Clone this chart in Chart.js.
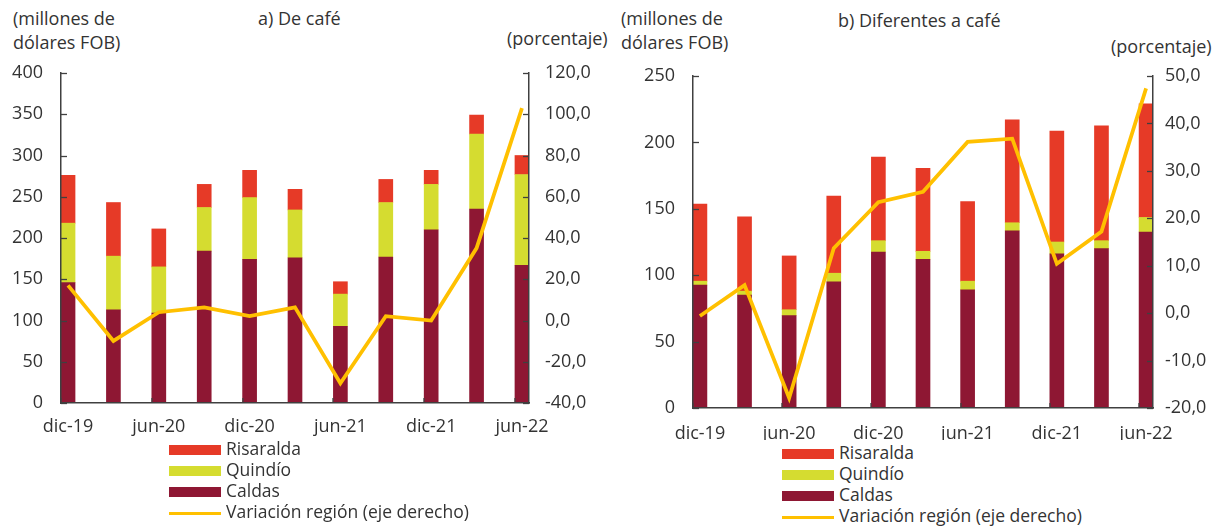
<!DOCTYPE html>
<html><head><meta charset="utf-8">
<script src="https://cdn.jsdelivr.net/npm/chart.js@4"></script>
<style>
body{margin:0;width:1220px;height:527px;overflow:hidden;background:#fff;font-family:'Open Sans',sans-serif;color:#333;position:relative}
.t{position:absolute;font-size:18px;line-height:24px;white-space:nowrap}
canvas{position:absolute}
.lg{position:absolute;font-size:17.5px;line-height:21px;white-space:nowrap}
.lg div{position:relative;height:21px}
.lg span.sw{position:absolute;left:0;width:52px}
.lg span.tx{position:absolute;left:57px;top:-2px}
</style></head><body>
<div class="t" style="left:13px;top:6px">(millones de<br>dólares FOB)</div>
<div class="t" style="left:258px;top:6px">a) De café</div>
<div class="t" style="left:507px;top:26px">(porcentaje)</div>
<div class="t" style="left:621px;top:6px">(millones de<br>dólares FOB)</div>
<div class="t" style="left:838px;top:8px">b) Diferentes a café</div>
<div class="t" style="left:1111px;top:34px">(porcentaje)</div>
<canvas id="ca" width="615" height="390" style="left:0;top:50px"></canvas>
<canvas id="cb" width="610" height="390" style="left:610px;top:50px"></canvas>
<div class="lg" id="lga" style="left:169px;top:440px"></div>
<div class="lg" id="lgb" style="left:782px;top:444px"></div>
<script>
// ---- data ----
const categories = ['dic-19','mar-20','jun-20','sep-20','dic-20','mar-21','jun-21','sep-21','dic-21','mar-22','jun-22'];
const tickLabels = ['dic-19','jun-20','dic-20','jun-21','dic-21','jun-22'];
const seriesNames = ['Risaralda','Quindío','Caldas','Variación región (eje derecho)'];

// a) De café (millones de dólares FOB; variación %)
const caldasA    = [146,113,109,184,174,176,93,177,210,235,167];
const quindioA   = [72,65,56,53,75,58,39,66,55,91,110];
const risaraldaA = [58,65,46,28,33,25,15,28,17,23,23];
const variacionA = [17,-9.9,4.0,6.4,2.1,6.4,-30.4,2.1,0.0,35.1,103];

// b) Diferentes a café
const caldasB    = [92.5,85,69.5,95,117.5,112,89,133.5,116,120,132.5];
const quindioB   = [3,3,4.5,6.5,8.5,6,6.5,6,9,6,11];
const risaraldaB = [58,56,40.5,58,63,62.5,60,77.5,83.5,86.5,85.5];
const variacionB = [-0.6,5.9,-17.9,13.7,23.4,25.6,36.1,36.8,10.4,17.2,47.4];

// ---- styles ----
const COL_RIS = '#E63A27', COL_QUI = '#D5DC30', COL_CAL = '#8E1733', COL_LINE = '#FFC000';
const AXIS = '#404040', TXT = '#333333';
const BAR_W = 14, X_PAD = 0.155;

Chart.defaults.font.family = "'Open Sans', sans-serif";
Chart.defaults.font.size = 18;
Chart.defaults.color = TXT;

const fmt1 = v => v.toFixed(1).replace('.', ',');

const inTicks = {
  id: 'inTicks',
  afterDraw(chart) {
    const ctx = chart.ctx, a = chart.chartArea;
    const {x, y, y1} = chart.scales;
    ctx.save();
    ctx.strokeStyle = AXIS; ctx.lineWidth = 1.3;
    const seg = (x0, y0, x2, y2) => { ctx.beginPath(); ctx.moveTo(x0, y0); ctx.lineTo(x2, y2); ctx.stroke(); };
    y.ticks.forEach(t => { const p = Math.round(y.getPixelForValue(t.value)) + 0.5; seg(a.left, p, a.left + 6, p); });
    y1.ticks.forEach(t => { const p = Math.round(y1.getPixelForValue(t.value)) + 0.5; seg(a.right - 6, p, a.right, p); });
    x.ticks.forEach(t => { const p = Math.round(x.getPixelForValue(t.value) - BAR_W / 2); seg(p, a.bottom, p, a.bottom - 5); });
    ctx.restore();
  }
};

function build(id, cal, qui, ris, vari, g) {
  const pts = arr => arr.map((v, i) => ({x: i, y: v}));
  const fitY = w => s => { s.width = w; s.paddingTop = 0; s.paddingBottom = 0; };
  return new Chart(document.getElementById(id), {
    type: 'bar',
    data: {
      datasets: [
        {type: 'line', label: seriesNames[3], data: pts(vari), yAxisID: 'y1', borderColor: COL_LINE, borderWidth: 3.75, pointRadius: 0, tension: 0, fill: false},
        {label: seriesNames[2], data: pts(cal), backgroundColor: COL_CAL, yAxisID: 'y', barThickness: BAR_W},
        {label: seriesNames[1], data: pts(qui), backgroundColor: COL_QUI, yAxisID: 'y', barThickness: BAR_W},
        {label: seriesNames[0], data: pts(ris), backgroundColor: COL_RIS, yAxisID: 'y', barThickness: BAR_W}
      ]
    },
    options: {
      responsive: false, animation: false,
      layout: {padding: {top: g.padTop, left: 0, right: 0, bottom: 0}},
      plugins: {legend: {display: false}, tooltip: {enabled: false}},
      scales: {
        x: {
          type: 'linear', stacked: true, offset: false, min: -X_PAD, max: categories.length - 1 + X_PAD,
          grid: {display: false, drawTicks: false, offset: false},
          border: {display: true, color: AXIS, width: 1.5, z: 1},
          afterBuildTicks: s => { s.ticks = tickLabels.map(l => ({value: categories.indexOf(l)})); },
          ticks: {padding: g.xPad, maxRotation: 0, autoSkip: false, callback: v => categories[v]},
          afterFit: s => { s.height = g.xH; }
        },
        y: {
          position: 'left', stacked: true, min: 0, max: g.yMax,
          grid: {display: false, drawTicks: false},
          border: {display: true, color: AXIS, width: 1.5, z: 1},
          ticks: {stepSize: 50, padding: g.yPad},
          afterFit: fitY(g.yW)
        },
        y1: {
          position: 'right', min: g.y1Min, max: g.y1Max,
          grid: {display: false, drawTicks: false},
          border: {display: true, color: AXIS, width: 1.5, z: 1},
          ticks: {stepSize: g.y1Step, padding: g.y1Pad, callback: v => fmt1(v)},
          afterFit: fitY(g.y1W)
        }
      }
    },
    plugins: [inTicks]
  });
}

build('ca', caldasA, quindioA, risaraldaA, variacionA,
  {padTop: 23, xH: 37, xPad: 13, yMax: 400, yW: 61, yPad: 18, y1Min: -40, y1Max: 120, y1Step: 20, y1W: 86, y1Pad: 16});
build('cb', caldasB, quindioB, risaraldaB, variacionB,
  {padTop: 26, xH: 32, xPad: 15, yMax: 250, yW: 83, yPad: 18, y1Min: -20, y1Max: 50, y1Step: 10, y1W: 67, y1Pad: 12});

function legend(id) {
  const items = [[seriesNames[0], COL_RIS, 'bar'], [seriesNames[1], COL_QUI, 'bar'], [seriesNames[2], COL_CAL, 'bar'], [seriesNames[3], COL_LINE, 'line']];
  const el = document.getElementById(id);
  items.forEach(([n, c, k]) => {
    const d = document.createElement('div');
    const sw = document.createElement('span');
    sw.className = 'sw';
    sw.style.background = c;
    sw.style.height = k === 'bar' ? '10px' : '3px';
    sw.style.top = k === 'bar' ? '5px' : '9px';
    const tx = document.createElement('span');
    tx.className = 'tx'; tx.textContent = n;
    d.appendChild(sw); d.appendChild(tx); el.appendChild(d);
  });
}
legend('lga'); legend('lgb');
</script>
</body></html>
